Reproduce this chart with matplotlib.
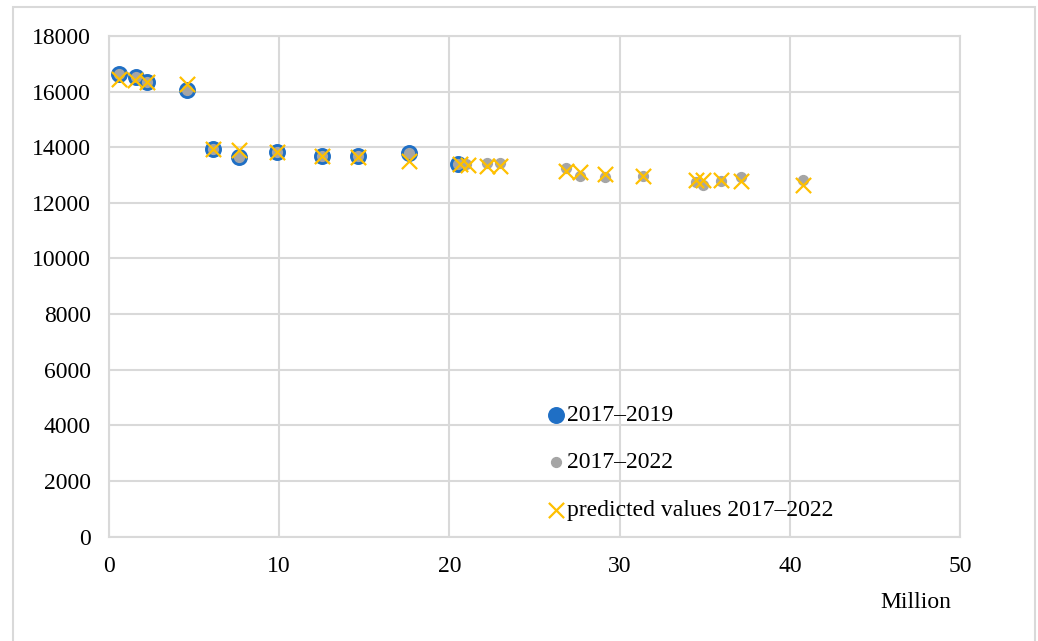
import numpy as np
import matplotlib.pyplot as plt
from matplotlib.patches import Rectangle

plt.rcParams['font.family'] = ['Liberation Serif', 'DejaVu Serif']

# 2017-2019 observations (million, value)
x_1719 = [0.61, 1.59, 2.25, 4.56, 6.13, 7.62, 9.89, 12.5, 14.65, 17.64, 20.52]
y_1719 = [16630, 16520, 16360, 16040, 13930, 13630, 13810, 13670, 13690, 13790, 13390]

# 2017-2022 observations
x_1722 = [0.61, 1.59, 2.25, 4.56, 6.13, 7.62, 9.89, 12.5, 14.65, 17.64, 20.52,
          21.0, 22.19, 22.97, 26.85, 27.67, 29.14, 31.39, 34.49, 34.92, 35.96, 37.13, 40.79]
y_1722 = [16630, 16520, 16360, 16040, 13930, 13630, 13810, 13670, 13690, 13790, 13390,
          13400, 13430, 13430, 13245, 12970, 12925, 12945, 12730, 12650, 12800, 12940, 12820]

# predicted values 2017-2022
x_pred = [0.61, 1.53, 2.25, 4.56, 6.13, 7.62, 9.89, 12.5, 14.65, 17.64, 20.62,
          21.11, 22.19, 22.97, 26.85, 27.67, 29.14, 31.39, 34.49, 34.92, 35.96, 37.13, 40.79]
y_pred = [16450, 16420, 16330, 16280, 13930, 13880, 13810, 13665, 13640, 13485, 13390,
          13365, 13330, 13330, 13160, 13090, 13045, 12970, 12830, 12830, 12830, 12770, 12650]

fs = 17

fig = plt.figure(figsize=(10.38, 6.41), dpi=100)
ax = fig.add_axes([0.105, 0.163, 0.82, 0.781])

# outer frame of the chart
fig.patches.append(Rectangle((13 / 1038, -0.01), 1022 / 1038, 1 - 7 / 641 + 0.01,
                             transform=fig.transFigure, fill=False,
                             edgecolor='#d9d9d9', linewidth=1.5))

ax.scatter(x_1719, y_1719, s=125, color='#1f6fc5', label='2017\u20132019', zorder=3)
ax.scatter(x_1722, y_1722, s=50, color='#a5a5a5', label='2017\u20132022', zorder=4)
ax.scatter(x_pred, y_pred, s=120, marker='x', color='#ffc000', linewidths=1.6,
           label='predicted values 2017\u20132022', zorder=5)

ax.set_xlim(0, 50)
ax.set_ylim(0, 18000)
ax.set_xticks(np.arange(0, 51, 10))
ax.set_yticks(np.arange(0, 18001, 2000))
ax.tick_params(length=0, labelsize=fs, colors='black')
ax.tick_params(axis='y', pad=13)
ax.tick_params(axis='x', pad=14)
ax.grid(True, color='#d9d9d9', linewidth=1.5)
ax.set_axisbelow(True)
for sp in ax.spines.values():
    sp.set_color('#d9d9d9')
    sp.set_linewidth(1.5)

fig.text(951 / 1038, 1 - 602 / 641, 'Million', ha='right', va='center', fontsize=fs)

leg = ax.legend(loc='upper left', bbox_to_anchor=(0.502, 0.283), frameon=False,
                fontsize=fs, handletextpad=0.0, labelspacing=1.1,
                handlelength=0.9, borderaxespad=0)

fig.savefig('out.png', dpi=100)
